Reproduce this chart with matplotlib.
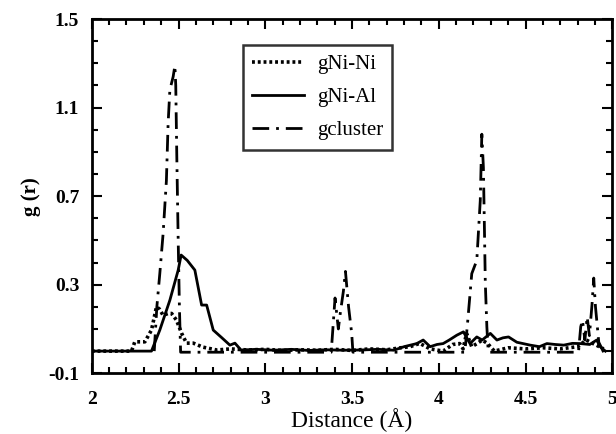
import matplotlib.pyplot as plt
from matplotlib.ticker import MultipleLocator

plt.rcParams['font.family'] = ['Liberation Serif', 'DejaVu Serif']

nini_r = [2.0, 2.229, 2.248, 2.306, 2.344, 2.373, 2.39, 2.411, 2.44, 2.46, 2.488, 2.518,
          2.546, 2.585, 2.64, 2.72, 2.8, 2.9, 3.0, 3.1, 3.2, 3.3, 3.4, 3.5, 3.6, 3.7,
          3.78, 3.835, 3.89, 3.95, 4.025, 4.08, 4.12, 4.14, 4.16, 4.19, 4.22, 4.25,
          4.28, 4.32, 4.4, 4.5, 4.6, 4.7, 4.8, 4.85, 4.9, 4.95]
nini_g = [0.0, 0.0, 0.042, 0.042, 0.095, 0.2, 0.19, 0.162, 0.17, 0.17, 0.14, 0.08,
          0.036, 0.036, 0.018, 0.005, 0.01, 0.005, 0.008, 0.003, 0.006, 0.004, 0.008,
          0.003, 0.01, 0.006, 0.015, 0.02, 0.035, 0.01, 0.0, 0.03, 0.034, 0.01, 0.08,
          0.02, 0.034, 0.05, 0.035, 0.0, 0.015, 0.01, 0.015, 0.01, 0.02, 0.05, 0.03, 0.01]

nial_r = [2.0, 2.344, 2.392, 2.45, 2.498, 2.515, 2.55, 2.594, 2.633, 2.662, 2.70, 2.75,
          2.796, 2.825, 2.86, 2.95, 3.05, 3.15, 3.25, 3.35, 3.45, 3.55, 3.65, 3.74,
          3.80, 3.873, 3.91, 3.95, 3.99, 4.025, 4.06, 4.104, 4.142, 4.18, 4.219, 4.25,
          4.297, 4.335, 4.37, 4.402, 4.45, 4.527, 4.58, 4.623, 4.67, 4.72, 4.77, 4.816,
          4.87, 4.91, 4.93, 4.96]
nial_g = [0.0, 0.0, 0.095, 0.23, 0.366, 0.434, 0.41, 0.366, 0.208, 0.208, 0.095, 0.06,
          0.027, 0.036, 0.005, 0.008, 0.004, 0.008, 0.003, 0.006, 0.004, 0.005, 0.008,
          0.004, 0.02, 0.034, 0.05, 0.02, 0.03, 0.034, 0.05, 0.072, 0.087, 0.034, 0.064,
          0.05, 0.08, 0.05, 0.06, 0.064, 0.04, 0.027, 0.02, 0.034, 0.03, 0.027, 0.035,
          0.034, 0.03, 0.05, 0.02, 0.0]

cluster_r = [2.36, 2.375, 2.392, 2.411, 2.43, 2.44, 2.45, 2.469, 2.479, 2.484, 2.49,
             2.498, 2.505, 2.512, 3.38, 3.402, 3.421, 3.432, 3.45, 3.462, 3.48, 3.498,
             3.505, 4.15, 4.165, 4.19, 4.219, 4.239, 4.248, 4.257, 4.262, 4.268, 4.277,
             4.285, 4.805, 4.818, 4.828, 4.842, 4.855, 4.868, 4.883, 4.893, 4.903,
             4.912, 4.922, 4.95]
cluster_g = [0.0, 0.2, 0.35, 0.53, 0.77, 1.03, 1.18, 1.24, 1.29, 1.2, 0.88, 0.5, 0.2,
             -0.005, -0.005, 0.24, 0.1, 0.17, 0.27, 0.36, 0.2, 0.08, -0.005, -0.005,
             0.12, 0.35, 0.41, 0.68, 0.98, 0.83, 0.6, 0.31, 0.11, -0.005, -0.005, 0.11,
             0.14, 0.05, 0.155, 0.07, 0.21, 0.33, 0.2, 0.125, 0.04, -0.005]

x_ticks = [2, 2.5, 3, 3.5, 4, 4.5, 5]
x_labels = ['2', '2.5', '3', '3.5', '4', '4.5', '5']
y_ticks = [-0.1, 0.3, 0.7, 1.1, 1.5]
y_labels = ['-0.1', '0.3', '0.7', '1.1', '1.5']

fig = plt.figure(figsize=(6.16, 4.34), dpi=100)
ax = fig.add_axes([0.149, 0.14, 0.845, 0.816])

ax.plot(nini_r, nini_g, color='black', lw=2.6, linestyle=(0, (0.8, 0.8)),
        label='gNi-Ni')
ax.plot(nial_r, nial_g, color='black', lw=2.0, label='gNi-Al')
ax.plot(cluster_r, cluster_g, color='black', lw=2.0,
        linestyle=(0, (6, 2.5, 1, 2.5)), label='gcluster')

ax.set_xlim(2, 5)
ax.set_ylim(-0.1, 1.5)
ax.set_xticks(x_ticks, x_labels)
ax.set_yticks(y_ticks, y_labels)
ax.xaxis.set_minor_locator(MultipleLocator(0.1))
ax.yaxis.set_minor_locator(MultipleLocator(0.1))

ax.tick_params(which='both', direction='in', top=True, right=True, width=1.5)
ax.tick_params(which='major', length=7, labelsize=14)
ax.tick_params(axis='x', which='major', pad=13)
ax.tick_params(axis='y', which='major', pad=9)
ax.tick_params(which='minor', length=4)
for lab in ax.get_xticklabels() + ax.get_yticklabels():
    lab.set_fontweight('bold')
for sp in ax.spines.values():
    sp.set_linewidth(2)

ax.set_xlabel('Distance (Å)', fontsize=17, labelpad=0)
ax.set_ylabel('g (r)', fontsize=15, fontweight='bold', labelpad=5)

leg = ax.legend(loc='upper left', bbox_to_anchor=(0.29, 0.927), fontsize=15,
                frameon=True, fancybox=False, borderaxespad=0, handlelength=2.5,
                handletextpad=0.6, labelspacing=0.65, borderpad=0.45)
leg.get_frame().set_edgecolor('black')
leg.get_frame().set_linewidth(1.8)

fig.savefig('out.png', dpi=100)
